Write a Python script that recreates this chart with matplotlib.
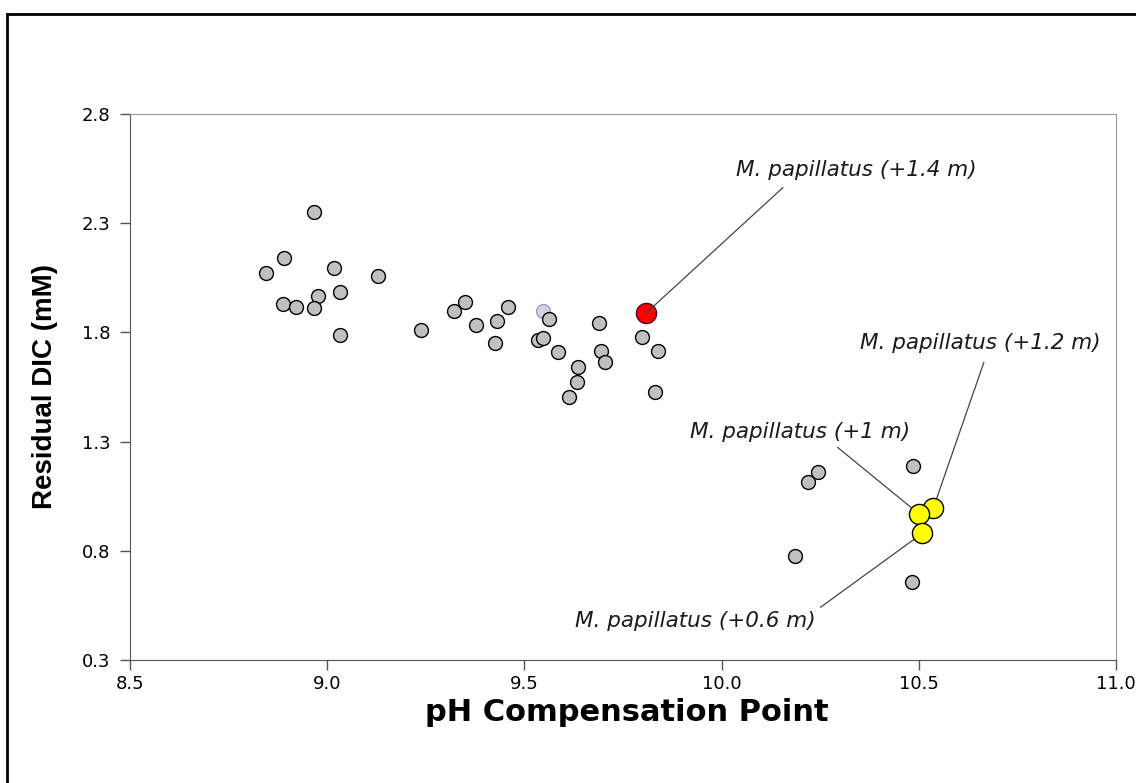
import matplotlib
matplotlib.use("Agg")
import matplotlib.pyplot as plt
from matplotlib.lines import Line2D

# wide sans: the reference text is drawn wider than plain Arial
plt.rcParams['font.family'] = ['DejaVu Sans']

# grey points (all other taxa)
ph_grey = [8.967, 8.890, 8.844, 9.018, 9.128, 9.032, 8.977, 8.887, 8.921, 8.967,
           9.032, 9.238, 9.350, 9.321, 9.458, 9.430, 9.377, 9.425, 9.562, 9.534,
           9.548, 9.584, 9.636, 9.633, 9.612, 9.689, 9.694, 9.705, 9.797, 9.839,
           9.831, 10.245, 10.220, 10.486, 10.186, 10.482]
dic_grey = [2.351, 2.140, 2.072, 2.097, 2.059, 1.987, 1.967, 1.931, 1.918, 1.914,
            1.789, 1.811, 1.941, 1.900, 1.918, 1.854, 1.834, 1.750, 1.862, 1.766,
            1.776, 1.709, 1.640, 1.572, 1.506, 1.842, 1.714, 1.666, 1.779, 1.715,
            1.528, 1.161, 1.116, 1.189, 0.775, 0.657]

# faint bluish point
ph_faint = [9.546]
dic_faint = [1.899]

# M. papillatus at +1.4 m
ph_red = [9.808]
dic_red = [1.888]

# M. papillatus at +1.2, +1, +0.6 m
ph_yellow = [10.537, 10.501, 10.509]
dic_yellow = [0.996, 0.967, 0.879]

fig = plt.figure(figsize=(11.36, 7.83), dpi=100)
ax = fig.add_axes([0.1144, 0.1577, 0.868, 0.6961])

ax.scatter(ph_grey, dic_grey, s=100, c="#c0c0c0", edgecolors="black", linewidths=1.0, zorder=4)
ax.scatter(ph_faint, dic_faint, s=100, c="#d2d2e6", edgecolors="#9a9ac0", linewidths=1.0, zorder=3)
ax.scatter(ph_red, dic_red, s=210, c="#ff0000", edgecolors="#550033", linewidths=1.0, zorder=4)
ax.scatter(ph_yellow, dic_yellow, s=210, c="#ffff00", edgecolors="black", linewidths=1.0, zorder=4)

lbl = dict(fontsize=15.5, style="italic", color="#1a1a1a")
line = dict(arrowstyle="-", color="#444444", lw=0.9, shrinkB=0)

ax.annotate("M. papillatus (+1.4 m)", xy=(ph_red[0], dic_red[0]), xytext=(10.341, 2.545),
            ha="center", va="center", zorder=5,
            arrowprops=dict(relpos=(0.23, 0.0), shrinkA=5, **line), **lbl)
ax.annotate("M. papillatus (+1.2 m)", xy=(ph_yellow[0], dic_yellow[0]), xytext=(10.655, 1.752),
            ha="center", va="center", zorder=3,
            arrowprops=dict(relpos=(0.53, 0.0), shrinkA=5, **line), **lbl)
ax.annotate("M. papillatus (+1 m)", xy=(ph_yellow[1], dic_yellow[1]), xytext=(10.199, 1.344),
            ha="center", va="center", zorder=3,
            arrowprops=dict(relpos=(0.64, 0.0), shrinkA=3, **line), **lbl)
ax.annotate("M. papillatus (+0.6 m)", xy=(ph_yellow[2], dic_yellow[2]), xytext=(9.933, 0.477),
            ha="center", va="center", zorder=3,
            arrowprops=dict(relpos=(1.0, 1.0), shrinkA=2, **line), **lbl)

ax.set_xlim(8.5, 11.0)
ax.set_ylim(0.3, 2.8)
ax.set_xticks([8.5, 9.0, 9.5, 10.0, 10.5, 11.0])
ax.set_yticks([0.3, 0.8, 1.3, 1.8, 2.3, 2.8])
ax.set_xticklabels(["8.5", "9.0", "9.5", "10.0", "10.5", "11.0"])
ax.set_yticklabels(["0.3", "0.8", "1.3", "1.8", "2.3", "2.8"])
ax.tick_params(direction="out", length=7, width=1, color="#555555", labelsize=13)
ax.tick_params(axis="x", pad=4)
ax.tick_params(axis="y", pad=7)

for side in ["left", "bottom"]:
    ax.spines[side].set_color("#555555")
for side in ["top", "right"]:
    ax.spines[side].set_color("#999999")

ax.set_xlabel("pH Compensation Point", fontsize=22, fontweight="bold")
ax.set_ylabel("Residual DIC (mM)", fontsize=20, fontweight="bold", family="Liberation Sans")
ax.xaxis.set_label_coords(0.504, -0.098)
ax.xaxis.label.set_va("center")
ax.yaxis.set_label_coords(-0.086, 0.5)
ax.yaxis.label.set_va("center")

# outer frame (left and top edges show in the picture)
fig.add_artist(Line2D([0.0062, 0.0062], [0.0, 0.982], transform=fig.transFigure, color="black", lw=2))
fig.add_artist(Line2D([0.0062, 1.0], [0.982, 0.982], transform=fig.transFigure, color="black", lw=2))

fig.savefig("out.png", dpi=100)
